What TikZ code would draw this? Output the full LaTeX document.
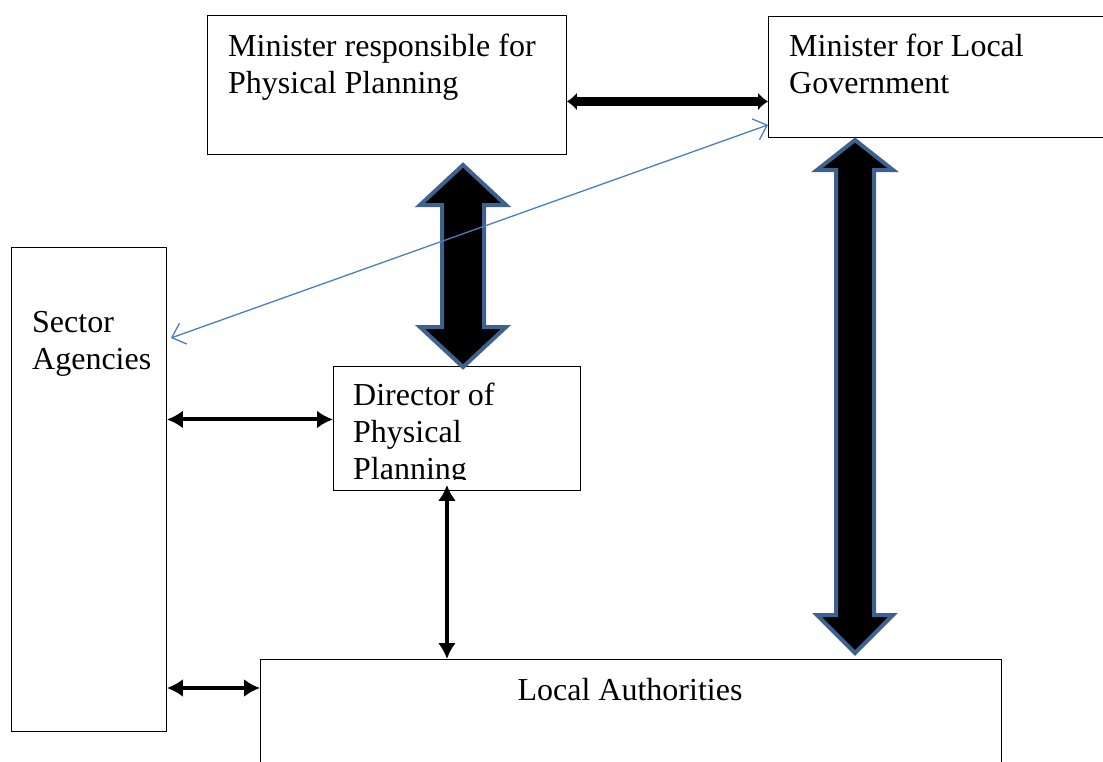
\documentclass[tikz,border=0pt]{standalone}
\usepackage{fontspec}
\setmainfont{Liberation Serif}
\usetikzlibrary{calc,arrows.meta}

\definecolor{arrowblue}{HTML}{3E6290}
\definecolor{lineblue}{HTML}{4A7EC1}

\begin{document}
\begin{tikzpicture}[x=1pt,y=-1pt,
    box/.style={draw, line width=0.9pt, anchor=north west, inner sep=0},
    lbl/.style={anchor=north west, inner sep=0, align=left, font=\fontsize{32}{37}\selectfont},
    link/.style={line width=4pt, {Latex[length=16pt,width=18pt]}-{Latex[length=16pt,width=18pt]}},
    fat/.style={fill=black, draw=arrowblue, line width=4pt, line join=miter},
    thin/.style={draw=lineblue, line width=1.3pt, {Straight Barb[length=12pt,width=22pt]}-{Straight Barb[length=12pt,width=22pt]}}]
    \useasboundingbox (0,0) rectangle (1103,761);

    % boxes
    \node[box, minimum width=359pt, minimum height=139pt] (mpp) at (207,15) {};
    \node[box, minimum width=345pt, minimum height=121pt] (mlg) at (768,16) {};
    \node[box, minimum width=155pt, minimum height=484pt] (sec) at (11,247) {};
    \node[box, minimum width=247pt, minimum height=124pt] (dpp) at (333,366) {};
    \node[box, minimum width=741pt, minimum height=120pt] (la) at (260,659) {};

    % texts
    \node[lbl] (mppt) at (228,34) {Minister responsible for\\Physical Planning};
    \node[lbl] (mlgt) at (789,34) {Minister for Local\\Government};
    \node[lbl] (sect) at (32,311) {Sector\\Agencies};
    \begin{scope}
        \clip (dpp.north west) rectangle (580,479);
        \node[lbl] (dppt) at (353,383) {Director of\\Physical\\Planning};
    \end{scope}
    \node[lbl, anchor=base] (lat) at (630,700) {Local Authorities};

    % fat arrows
    \draw[fat] (463,165) -- (506,205) -- (484,205) -- (484,327) -- (506,327) -- (463,367)
        -- (420,327) -- (442,327) -- (442,205) -- (420,205) -- cycle;
    \draw[fat] (855,140) -- (893,170) -- (874,170) -- (874,615) -- (893,615) -- (855,653)
        -- (817,615) -- (836,615) -- (836,170) -- (817,170) -- cycle;

    % connectors
    \draw[line width=8.5pt, {Latex[length=10pt,width=18pt]}-{Latex[length=10pt,width=18pt]}]
        ([yshift=-16.5pt]mpp.east) -- ([yshift=-16.5pt]mpp.east -| mlg.west);
    \draw[thin] ([yshift=13pt]mlg.south west) -- ([xshift=4pt,yshift=-91pt]sec.north east);
    \draw[link] ([yshift=9pt]dpp.west) -- ([yshift=9pt]dpp.west -| sec.east);
    \draw[link] ([xshift=-10pt,yshift=6pt]dpp.south) -- ([xshift=-10pt]dpp.south |- la.north);
    \draw[link] ([yshift=-29pt]la.north west) -- ([yshift=-29pt]la.north west -| sec.east);
\end{tikzpicture}
\end{document}
